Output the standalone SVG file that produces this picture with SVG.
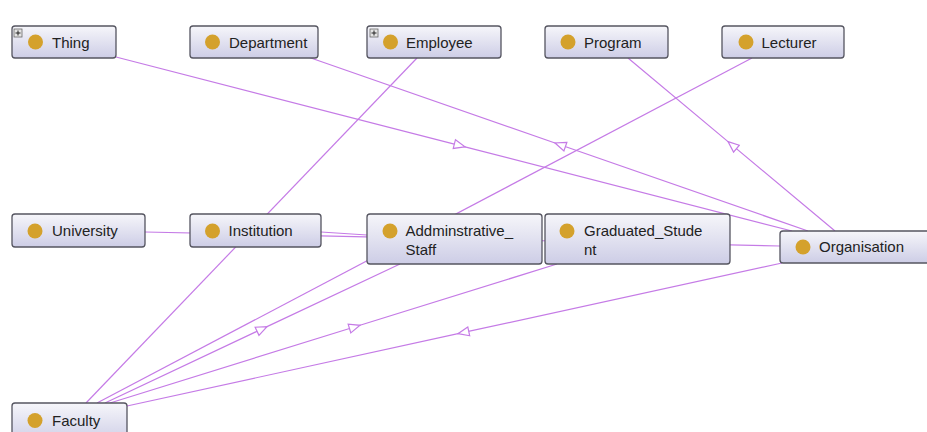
<svg xmlns="http://www.w3.org/2000/svg" width="927" height="432" viewBox="0 0 927 432">
  <defs>
    <linearGradient id="nodeFill" x1="0" y1="0" x2="0" y2="1">
      <stop offset="0" stop-color="#f6f6fa"/>
      <stop offset="1" stop-color="#cdcde6"/>
    </linearGradient>
    <!-- open triangle pointing along the path direction -->
    <marker id="fwd" viewBox="0 0 13 12" markerWidth="13" markerHeight="12" refX="12" refY="6" orient="auto" markerUnits="userSpaceOnUse">
      <path d="M1,1.5 L12,6 L1,10.5 Z" fill="#ffffff" stroke="#c57be6" stroke-width="1.2"/>
    </marker>
    <!-- open triangle pointing against the path direction -->
    <marker id="back" viewBox="0 0 13 12" markerWidth="13" markerHeight="12" refX="1" refY="6" orient="auto" markerUnits="userSpaceOnUse">
      <path d="M12,1.5 L1,6 L12,10.5 Z" fill="#ffffff" stroke="#c57be6" stroke-width="1.2"/>
    </marker>
  </defs>
  <style>
    .box { fill: url(#nodeFill); stroke: #555560; stroke-width: 1.3; }
    .dot { fill: #d4a12c; }
    .lbl { font-family: "Liberation Sans", Arial, sans-serif; font-size: 15px; fill: #222222; }
    .edge { fill: none; stroke: #c57be6; stroke-width: 1.2; }
    .exp { fill: #e4e4e4; stroke: #6a6a6a; stroke-width: 0.8; }
    .expmark { stroke: #222222; stroke-width: 1; }
  </style>

  <rect width="927" height="432" fill="#ffffff"/>

  <g id="connectors">
    <path class="edge" d="M116,57 L465,146.8 L792,231" marker-mid="url(#fwd)"/>
    <path class="edge" d="M308,57 L555,143 L808,231" marker-mid="url(#back)"/>
    <path class="edge" d="M628,58 L728,141.6 L835,231" marker-mid="url(#back)"/>
    <path class="edge" d="M752,58 L97,403"/>
    <path class="edge" d="M417,58 L86,403"/>
    <path class="edge" d="M400,264 L267,326.6 L105,403" marker-mid="url(#back)"/>
    <path class="edge" d="M557,264 L360,325.3 L110,403" marker-mid="url(#back)"/>
    <path class="edge" d="M782,263 L458,333.7 L127,406" marker-mid="url(#fwd)"/>
    <path class="edge" d="M145,232 L780,246"/>
    <path class="edge" d="M321,232 L367,235"/>
  </g>

  <g id="Thing">
    <rect class="box" x="12" y="26" width="104" height="32" rx="3"/>
    <rect class="exp" x="14" y="29" width="8" height="8"/>
    <line class="expmark" x1="15.5" y1="33" x2="20.5" y2="33"/>
    <line class="expmark" x1="18" y1="30.5" x2="18" y2="35.5"/>
    <circle class="dot" cx="35.5" cy="42" r="7.5"/>
    <text class="lbl" x="52" y="47.5">Thing</text>
  </g>

  <g id="Department">
    <rect class="box" x="190" y="26" width="128" height="32" rx="3"/>
    <circle class="dot" cx="212.5" cy="42" r="7.5"/>
    <text class="lbl" x="229" y="47.5">Department</text>
  </g>

  <g id="Employee">
    <rect class="box" x="367" y="26" width="134" height="32" rx="3"/>
    <rect class="exp" x="370" y="29" width="8" height="8"/>
    <line class="expmark" x1="371.5" y1="33" x2="376.5" y2="33"/>
    <line class="expmark" x1="374" y1="30.5" x2="374" y2="35.5"/>
    <circle class="dot" cx="390.5" cy="42" r="7.5"/>
    <text class="lbl" x="406" y="47.5">Employee</text>
  </g>

  <g id="Program">
    <rect class="box" x="545" y="26" width="123" height="32" rx="3"/>
    <circle class="dot" cx="568" cy="42" r="7.5"/>
    <text class="lbl" x="584" y="47.5">Program</text>
  </g>

  <g id="Lecturer">
    <rect class="box" x="722" y="26" width="122" height="32" rx="3"/>
    <circle class="dot" cx="746" cy="42" r="7.5"/>
    <text class="lbl" x="761.5" y="47.5">Lecturer</text>
  </g>

  <g id="University">
    <rect class="box" x="12" y="214" width="133" height="33" rx="3"/>
    <circle class="dot" cx="35" cy="231" r="7.5"/>
    <text class="lbl" x="52" y="236">University</text>
  </g>

  <g id="Institution">
    <rect class="box" x="190" y="214" width="131" height="33" rx="3"/>
    <circle class="dot" cx="212.5" cy="231" r="7.5"/>
    <text class="lbl" x="228.5" y="236">Institution</text>
  </g>

  <g id="Addminstrative_Staff">
    <rect class="box" x="367" y="214" width="175" height="50" rx="3"/>
    <circle class="dot" cx="390" cy="231" r="7.5"/>
    <text class="lbl" x="405.5" y="236">Addminstrative_</text>
    <text class="lbl" x="405.5" y="254.5">Staff</text>
  </g>

  <g id="Graduated_Student">
    <rect class="box" x="545" y="214" width="185" height="50" rx="3"/>
    <circle class="dot" cx="567" cy="231" r="7.5"/>
    <text class="lbl" x="584" y="236">Graduated_Stude</text>
    <text class="lbl" x="584" y="254.5">nt</text>
  </g>

  <g id="Organisation">
    <rect class="box" x="780" y="231" width="160" height="32" rx="3"/>
    <circle class="dot" cx="803" cy="247" r="7.5"/>
    <text class="lbl" x="819" y="252">Organisation</text>
  </g>

  <g id="Faculty">
    <rect class="box" x="12" y="403" width="115" height="40" rx="3"/>
    <circle class="dot" cx="35" cy="420.5" r="7.5"/>
    <text class="lbl" x="52" y="425.5">Faculty</text>
  </g>
</svg>
